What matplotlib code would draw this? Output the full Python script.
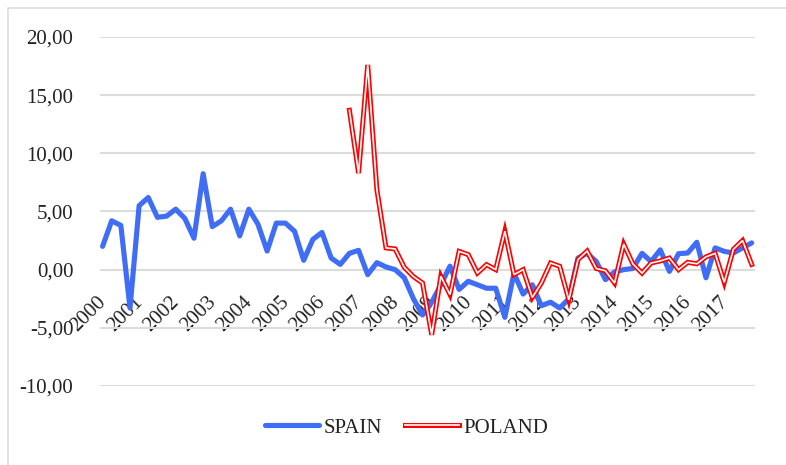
'''
Quarterly growth, Spain vs Poland (2000-2017)
Line chart with a double-line style for Poland, saved to out.png
'''
import matplotlib
matplotlib.use("Agg")
import matplotlib.pyplot as plt
import matplotlib.patheffects as pe
from matplotlib.patches import Rectangle
from matplotlib.transforms import ScaledTranslation

years = [str(y) for y in range(2000, 2018)]

# one value per quarter, 2000Q1 .. 2017Q4
spain = [
    2.0, 4.2, 3.8, -3.3,
    5.5, 6.2, 4.5, 4.6,
    5.2, 4.4, 2.7, 8.25,
    3.7, 4.2, 5.2, 2.9,
    5.2, 3.9, 1.6, 4.0,
    4.0, 3.3, 0.8, 2.6,
    3.2, 1.0, 0.45, 1.4,
    1.66, -0.43, 0.6, 0.23,
    0.0, -0.7, -2.5, -3.9,
    -2.8, -1.3, 0.3, -1.7,
    -1.0, -1.3, -1.6, -1.6,
    -4.1, -0.3, -2.1, -1.3,
    -3.1, -2.8, -3.3, -2.5,
    1.0, 1.4, 0.7, -0.86,
    -0.2, 0.0, 0.1, 1.4,
    0.7, 1.7, -0.15, 1.37,
    1.43, 2.35, -0.7, 1.87,
    1.57, 1.43, 1.87, 2.3,
]

# Poland starts at 2006Q4
poland_start = 27
poland = [
    13.7,
    8.3, 17.6, 6.9, 1.87,
    1.78, 0.2, -0.6, -1.15,
    -5.6, -0.57, -2.15, 1.57,
    1.29, -0.29, 0.43, 0.0,
    3.3, -0.43, 0.0, -2.4,
    -1.15, 0.57, 0.29, -2.6,
    0.86, 1.6, 0.1, -0.1,
    -1.15, 2.2, 0.5, -0.3,
    0.57, 0.75, 1.0, 0.0,
    0.63, 0.5, 1.1, 1.4,
    -1.1, 1.75, 2.5, 0.45,
]

y_ticks = [-10, -5, 0, 5, 10, 15, 20]

FONT = "Liberation Serif"
TEXT_COLOR = "#222222"
GRID_COLOR = "#D9DEDD"


def make_chart():
    plt.rcParams["font.family"] = [FONT, "DejaVu Serif"]
    fig = plt.figure(figsize=(7.86, 4.65), dpi=100)
    ax = fig.add_axes([0.127, 0.17, 0.834, 0.7504])

    x_spain = list(range(len(spain)))
    x_poland = list(range(poland_start, poland_start + len(poland)))

    spain_line, = ax.plot(x_spain, spain, color="#3F6DF5", lw=3.7,
                          solid_joinstyle="round", solid_capstyle="round", zorder=3)
    # double line: red stroke underneath, thin white line on top
    poland_line, = ax.plot(x_poland, poland, color="white", lw=1.2,
                           solid_joinstyle="miter", zorder=4,
                           path_effects=[pe.Stroke(linewidth=3.6, foreground="#FF0000"),
                                         pe.Normal()])

    ax.set_xlim(-0.3, 71.4)
    ax.set_ylim(-10, 20)
    ax.set_yticks(y_ticks)
    ax.set_yticklabels(["{:.2f}".format(v).replace(".", ",") for v in y_ticks],
                       fontsize=15, color=TEXT_COLOR)
    ax.yaxis.grid(True, color=GRID_COLOR, lw=1.5)
    ax.set_axisbelow(True)
    ax.tick_params(axis="y", length=0, pad=19)

    # year labels hang off the zero line
    ax.spines["bottom"].set_position(("data", 0))
    for side in ["bottom", "top", "left", "right"]:
        ax.spines[side].set_visible(False)
    ax.set_xticks(range(0, len(spain), 4))
    ax.set_xticklabels(years, fontsize=15, color=TEXT_COLOR, rotation=45,
                       ha="right", va="top", rotation_mode="anchor")
    ax.tick_params(axis="x", length=0, pad=5)
    shift = ScaledTranslation(-0.06, -0.16, fig.dpi_scale_trans)
    for lbl in ax.get_xticklabels():
        lbl.set_transform(lbl.get_transform() + shift)

    fig.legend([spain_line, poland_line], ["SPAIN", "POLAND"],
               loc="center", bbox_to_anchor=(0.517, 0.08), ncol=2,
               frameon=False, fontsize=15, handlelength=2.6,
               handletextpad=0.2, columnspacing=1.1, labelcolor=TEXT_COLOR)

    # thin frame round the chart area
    fig.patches.append(Rectangle((8 / 786, -0.05), 1.1, 1.05 - 8 / 465,
                                 transform=fig.transFigure, fill=False,
                                 edgecolor=GRID_COLOR, lw=1.2))

    fig.savefig("out.png", dpi=100)
    plt.close(fig)


def main():
    make_chart()


if __name__ == "__main__":
    main()
